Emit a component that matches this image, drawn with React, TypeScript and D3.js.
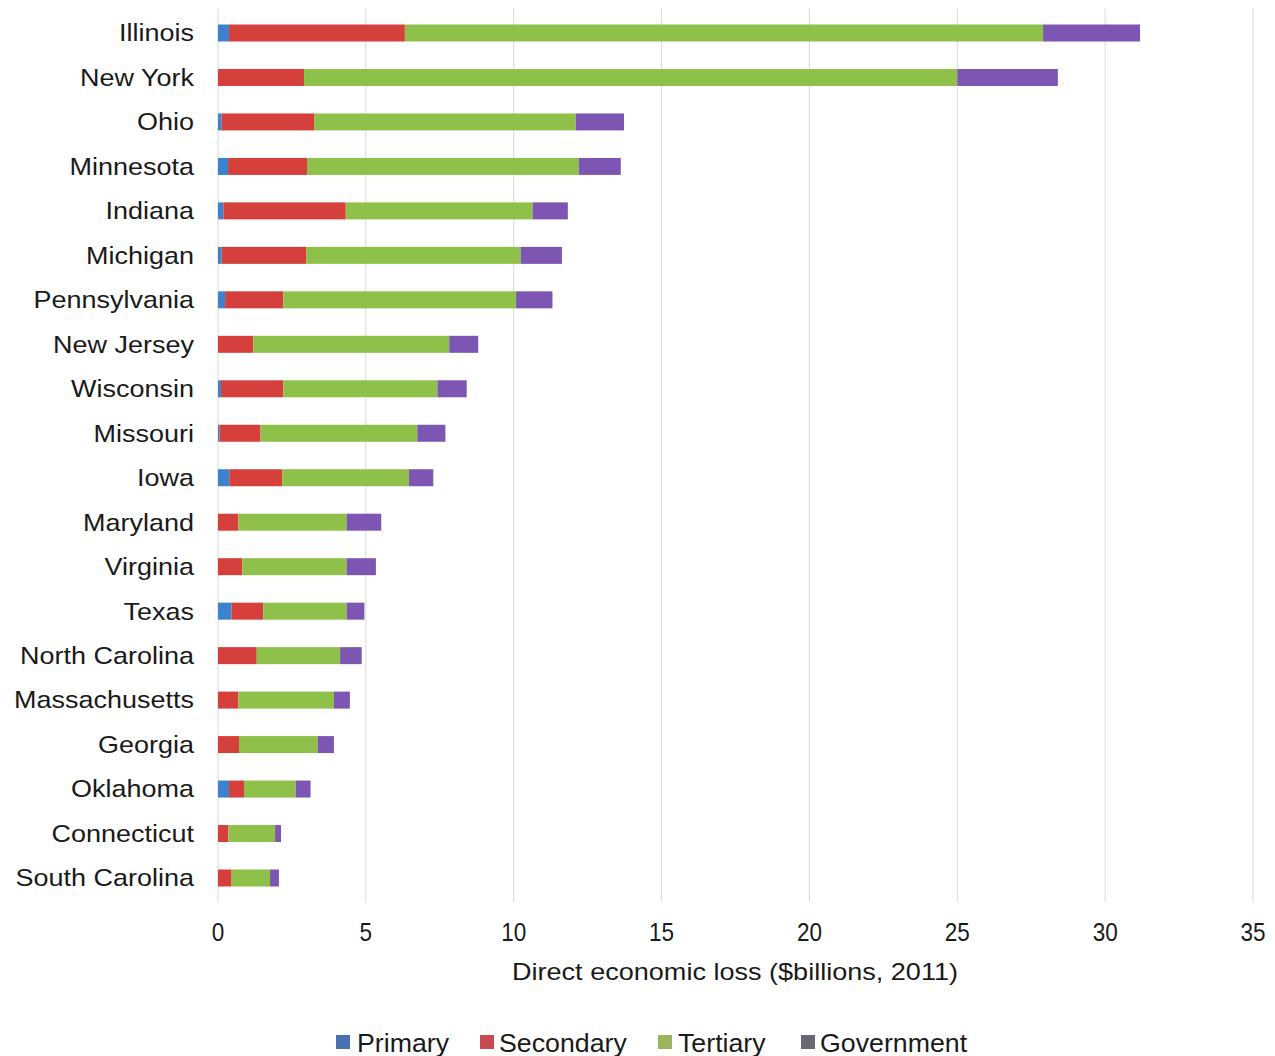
import React from "react";
import * as d3 from "d3";

const states = [
  "Illinois", "New York", "Ohio", "Minnesota", "Indiana", "Michigan", "Pennsylvania",
  "New Jersey", "Wisconsin", "Missouri", "Iowa", "Maryland", "Virginia", "Texas",
  "North Carolina", "Massachusetts", "Georgia", "Oklahoma", "Connecticut", "South Carolina",
];
const primary = [0.37, 0, 0.12, 0.34, 0.18, 0.12, 0.24, 0, 0.1, 0.05, 0.38, 0, 0, 0.46, 0, 0, 0, 0.37, 0, 0];
const secondary = [5.95, 2.91, 3.13, 2.67, 4.14, 2.86, 1.97, 1.19, 2.11, 1.39, 1.79, 0.69, 0.82, 1.07, 1.31, 0.69, 0.71, 0.51, 0.35, 0.46];
const tertiary = [21.58, 22.09, 8.85, 9.19, 6.32, 7.26, 7.87, 6.63, 5.21, 5.3, 4.29, 3.66, 3.53, 2.82, 2.82, 3.23, 2.66, 1.75, 1.58, 1.3];
const government = [3.28, 3.4, 1.63, 1.42, 1.19, 1.39, 1.23, 0.98, 0.99, 0.95, 0.82, 1.17, 0.99, 0.6, 0.73, 0.54, 0.55, 0.5, 0.2, 0.3];
const seriesNames = ["Primary", "Secondary", "Tertiary", "Government"];
const xTicks = [0, 5, 10, 15, 20, 25, 30, 35];

const barColors = ["#3b82cf", "#d6403c", "#8fc04a", "#7c56b2"];
const legendColors = ["#4a70b0", "#c94a50", "#9db35c", "#6b6676"];

export default function App() {
  const W = 1275, H = 1056;
  const x = d3.scaleLinear().domain([0, 35]).range([218, 1253]);
  const y = d3.scalePoint<string>().domain(states).range([33, 878]);
  const barH = 17;
  const rows = states.map((s, i) => ({
    state: s,
    Primary: primary[i],
    Secondary: secondary[i],
    Tertiary: tertiary[i],
    Government: government[i],
  }));
  const stacked = d3.stack<any>().keys(seriesNames)(rows);
  const font = "Arial, 'Liberation Sans', sans-serif";
  const legendPos = [
    { sx: 336, tx: 357 },
    { sx: 480, tx: 499 },
    { sx: 658, tx: 678 },
    { sx: 801, tx: 820 },
  ];
  return (
    <svg width={W} height={H} style={{ position: "absolute", left: 0, top: 0, background: "#fff" }} fontFamily={font}>
      {xTicks.map((t) => (
        <line key={t} x1={x(t)} x2={x(t)} y1={8} y2={902} stroke="#d9d9d9" strokeWidth={1} />
      ))}
      {stacked.map((layer, li) => (
        <g key={layer.key} fill={barColors[li]}>
          {layer.map((d, i) => (
            d[1] - d[0] > 0 ? (
              <rect key={i} x={x(d[0])} y={(y(states[i]) as number) - barH / 2} width={x(d[1]) - x(d[0])} height={barH} />
            ) : null
          ))}
        </g>
      ))}
      {states.map((s) => (
        <text key={s} x={194} y={y(s) as number} dy="0.35em" textAnchor="end" fontSize={24} fill="#1a1a1a"
          transform={`translate(194,0) scale(1.125,1) translate(-194,0)`}>{s}</text>
      ))}
      {xTicks.map((t) => (
        <text key={t} x={x(t)} y={932} dy="0.35em" textAnchor="middle" fontSize={25} fill="#1a1a1a"
          transform={`translate(${x(t)},0) scale(0.9,1) translate(${-x(t)},0)`}>{t}</text>
      ))}
      <text x={735} y={972} dy="0.35em" textAnchor="middle" fontSize={24} fill="#1a1a1a" textLength={446} lengthAdjust="spacingAndGlyphs">
        Direct economic loss ($billions, 2011)
      </text>
      {seriesNames.map((n, i) => (
        <g key={n}>
          <rect x={legendPos[i].sx} y={1035} width={14} height={14} fill={legendColors[i]} />
          <text x={legendPos[i].tx} y={1043} dy="0.35em" fontSize={25} fill="#1a1a1a"
            transform={`translate(${legendPos[i].tx},0) scale(1.07,1) translate(${-legendPos[i].tx},0)`}>{n}</text>
        </g>
      ))}
    </svg>
  );
}
